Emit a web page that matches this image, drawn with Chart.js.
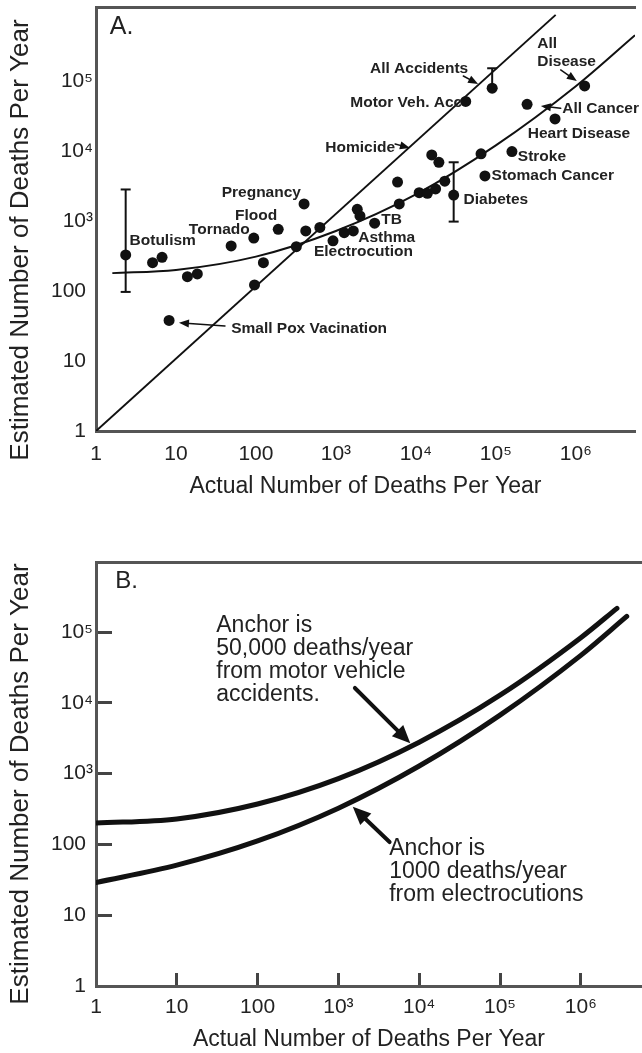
<!DOCTYPE html>
<html>
<head>
<meta charset="utf-8">
<title>Estimated vs actual deaths per year</title>
<script src="https://cdn.jsdelivr.net/npm/chart.js@4.4.1/dist/chart.umd.min.js"></script>
<style>
  html, body { margin: 0; padding: 0; background: #fff; }
  #wrap { position: relative; width: 642px; height: 1053px; overflow: hidden; }
  #chartA { position: absolute; left: 0; top: 0; }
  #chartB { position: absolute; left: 0; top: 530px; }
</style>
</head>
<body>
<div id="wrap">
  <canvas id="chartA" width="642" height="520"></canvas>
  <canvas id="chartB" width="642" height="523"></canvas>
</div>
<script>
// Two log-log panels: A. causes of death (estimated vs actual),
// B. the two anchor curves.

// ---- data ----

// Panel A: one dot per cause of death
const actualA    = [2.35, 5.1, 6.7, 13.9, 18.5, 8.2, 49, 94, 190, 400,
                    124, 96, 320, 420, 630, 920, 1270, 1650, 1850, 2000,
                    3050, 5900, 6200, 42000, 90000, 15800, 19400, 65300, 159000, 246000,
                    550000, 1290000, 73100, 23000, 11000, 13940, 17650, 29700];
const estimatedA = [327, 254, 303, 160, 175, 38, 440, 570, 760, 1750,
                    254, 122, 430, 720, 810, 520, 680, 720, 1470, 1180,
                    930, 3600, 1750, 51000, 79000, 8800, 6900, 9100, 9800, 46500,
                    28700, 85000, 4400, 3700, 2540, 2490, 2870, 2350];

// error bars (Botulism, All Accidents, Diabetes)
const barX    = [2.35, 90000, 29700];
const barLow  = [97, 79000, 980];
const barHigh = [2820, 152000, 6900];

// identity line and fitted curve
const diagX = [1, 560000];
const diagY = [1, 880000];
const fitX  = [1.6, 10, 100, 1000, 1e4, 1e5, 1e6, 5.5e6];
const fitY  = [180, 200, 310, 720, 2400, 12000, 84000, 450000];

// Panel B: anchor curves
const motorX = [1, 10, 100, 1000, 1e4, 1e5, 1e6, 2.8e6];
const motorY = [200, 229, 372, 850, 2780, 12800, 83000, 216000];
const electroX = [1, 10, 100, 1000, 1e4, 1e5, 1e6, 3.7e6];
const electroY = [29, 51, 112, 325, 1280, 6700, 46800, 166000];

// axis ticks
const xTickValues = [1, 10, 100, 1e3, 1e4, 1e5, 1e6];
const yTickValues = [1, 10, 100, 1e3, 1e4, 1e5];
const tickLabels  = ["1", "10", "100", "10³", "10⁴", "10⁵", "10⁶"];

// ---- styling ----
const FONT  = "'Liberation Sans', Arial, Helvetica, sans-serif";
const INK   = "#111";
const FRAME = "#555";

Chart.defaults.font.family = FONT;
Chart.defaults.color = "#222";

const tickText = Object.fromEntries(xTickValues.map((v, i) => [v, tickLabels[i]]));
const xTick = v => tickText[v] || "";
// pad plain labels so their digits line up with the superscripted ones
const yTick = v => {
  const t = tickText[v] || "";
  return v >= 1000 ? t : t + "\u2004";
};

const pts = (xs, ys) => xs.map((v, i) => ({ x: v, y: ys[i] }));

function notesPlugin(notes) {
  return {
    id: "notes",
    afterDatasetsDraw(chart) {
      const ctx = chart.ctx;
      const px = v => chart.scales.x.getPixelForValue(v);
      const py = v => chart.scales.y.getPixelForValue(v);
      ctx.save();
      ctx.fillStyle = INK;
      ctx.strokeStyle = INK;
      ctx.lineCap = "round";
      notes.arrows.forEach(a => {
        const x0 = px(a.from[0]), y0 = py(a.from[1]);
        const x1 = px(a.to[0]),   y1 = py(a.to[1]);
        const ang = Math.atan2(y1 - y0, x1 - x0);
        const c = Math.cos(ang), s = Math.sin(ang);
        const hl = notes.head, hw = notes.headWidth;
        ctx.lineWidth = notes.arrowWidth;
        ctx.beginPath();
        ctx.moveTo(x0, y0);
        ctx.lineTo(x1 - c * hl * 0.7, y1 - s * hl * 0.7);
        ctx.stroke();
        ctx.beginPath();
        ctx.moveTo(x1, y1);
        ctx.lineTo(x1 - c * hl - s * hw, y1 - s * hl + c * hw);
        ctx.lineTo(x1 - c * hl + s * hw, y1 - s * hl - c * hw);
        ctx.closePath();
        ctx.fill();
      });
      ctx.fillStyle = "#222";
      ctx.textBaseline = "middle";
      notes.texts.forEach(t => {
        ctx.font = t.font || notes.font;
        ctx.textAlign = t.align || "left";
        t.lines.forEach((line, i) => ctx.fillText(line, px(t.x), py(t.y) + i * notes.lineHeight));
      });
      // rotated y title, placed where the original has it
      const yt = notes.yTitle;
      ctx.translate(yt.x, yt.y);
      ctx.rotate(-Math.PI / 2);
      ctx.textAlign = "center";
      ctx.font = "26px " + FONT;
      ctx.fillText("Estimated Number of Deaths Per Year", 0, 0);
      ctx.restore();
    }
  };
}

function scales(opts) {
  return {
    x: {
      type: "logarithmic", min: 1, max: opts.xMax,
      afterBuildTicks: s => { s.ticks = xTickValues.map(v => ({ value: v })); },
      // fixed box size, and no extra room reserved for overhanging labels
      afterFit: s => { s.height = opts.xHeight; s.paddingLeft = 0; s.paddingRight = 0; },
      grid: opts.xGrid,
      border: { display: true, color: FRAME, width: 3 },
      ticks: { callback: xTick, font: { size: 21 }, padding: opts.xPad,
               autoSkip: false, maxRotation: 0 },
      title: { display: true, text: "Actual Number of Deaths Per Year",
               font: { size: 23 }, padding: { top: 0, bottom: opts.titlePad } }
    },
    xTop: {
      type: "linear", position: "top",
      afterFit: s => { s.height = 0; s.paddingLeft = 0; s.paddingRight = 0; },
      grid: { display: false, drawTicks: false },
      ticks: { display: false },
      border: { display: true, color: FRAME, width: 3 }
    },
    y: {
      type: "logarithmic", min: 1, max: opts.yMax,
      afterBuildTicks: s => { s.ticks = yTickValues.map(v => ({ value: v })); },
      afterFit: s => { s.width = 96; s.paddingTop = 0; s.paddingBottom = 0; },
      grid: opts.yGrid,
      border: { display: true, color: FRAME, width: 3 },
      ticks: { callback: yTick, font: { size: 21 }, padding: opts.yPad, autoSkip: false }
    }
  };
}

const common = {
  responsive: false,
  animation: false,
  events: [],
  plugins: { legend: { display: false }, tooltip: { enabled: false } }
};

// ---- panel A ----
const boldFont = "bold 15.5px " + FONT;
const notesA = {
  font: boldFont, lineHeight: 18, arrowWidth: 1.5, head: 10, headWidth: 4,
  yTitle: { x: 21, y: 240 },
  texts: [
    { lines: ["A."], x: 1.49, y: 581000, font: "25px " + FONT },
    { lines: ["Botulism"], x: 2.63, y: 518 },
    { lines: ["Tornado"], x: 14.5, y: 744 },
    { lines: ["Flood"], x: 54.6, y: 1180 },
    { lines: ["Pregnancy"], x: 37.3, y: 2540 },
    { lines: ["TB"], x: 3700, y: 1030 },
    { lines: ["Asthma"], x: 1900, y: 585 },
    { lines: ["Electrocution"], x: 531, y: 364 },
    { lines: ["Small Pox Vacination"], x: 49, y: 29.3 },
    { lines: ["Homicide"], x: 5500, y: 11140, align: "right" },
    { lines: ["Motor Veh. Acc"], x: 38000, y: 49600, align: "right" },
    { lines: ["All Accidents"], x: 45100, y: 149300, align: "right" },
    { lines: ["All", "Disease"], x: 330000, y: 346000 },
    { lines: ["All Cancer"], x: 677000, y: 40700 },
    { lines: ["Heart Disease"], x: 250400, y: 17900 },
    { lines: ["Stroke"], x: 188400, y: 8290 },
    { lines: ["Stomach Cancer"], x: 88500, y: 4395 },
    { lines: ["Diabetes"], x: 39500, y: 1995 }
  ],
  arrows: [
    { from: [41, 31.6], to: [10.9, 35.2] },
    { from: [5500, 12600], to: [8430, 11040] },
    { from: [39200, 117800], to: [60000, 90600] },
    { from: [647000, 143600], to: [1030000, 100000] },
    { from: [647000, 40700], to: [366000, 43900] }
  ]
};

const errorBars = barX.map((v, i) => ({
  type: "line",
  data: [{ x: v, y: barLow[i] }, { x: v, y: barHigh[i] }],
  borderColor: INK, borderWidth: 2,
  pointStyle: "line", pointRadius: 5, pointBorderColor: INK, pointBorderWidth: 2
}));

new Chart(document.getElementById("chartA"), {
  type: "scatter",
  data: {
    datasets: [
      { data: pts(actualA, estimatedA), pointRadius: 5.5,
        pointBackgroundColor: INK, pointBorderWidth: 0 },
      ...errorBars,
      { type: "line", data: pts(diagX, diagY), borderColor: INK, borderWidth: 2, pointRadius: 0 },
      { type: "line", data: pts(fitX, fitY), borderColor: INK, borderWidth: 2, pointRadius: 0,
        cubicInterpolationMode: "monotone" }
    ]
  },
  options: {
    ...common,
    layout: { padding: { top: 7, left: 0, right: 0, bottom: 0 } },
    scales: scales({
      xMax: 5.5e6, yMax: 1.14e6, xHeight: 89, titlePad: 20, xPad: 11, yPad: 3,
      xGrid: { display: false, drawTicks: false },
      yGrid: { display: false, drawTicks: false }
    })
  },
  plugins: [notesPlugin(notesA)]
});

// ---- panel B ----
const notesB = {
  font: "23px " + FONT, lineHeight: 23, arrowWidth: 4, head: 18, headWidth: 8,
  yTitle: { x: 21, y: 254 },
  texts: [
    { lines: ["B."], x: 1.73, y: 525000, font: "24px " + FONT },
    { lines: ["Anchor is", "50,000 deaths/year", "from motor vehicle", "accidents."],
      x: 30.8, y: 121600 },
    { lines: ["Anchor is", "1000 deaths/year", "from electrocutions"], x: 4250, y: 86 }
  ],
  arrows: [
    { from: [1600, 16200], to: [7760, 2680] },
    { from: [4300, 108], to: [1507, 340] }
  ]
};

new Chart(document.getElementById("chartB"), {
  type: "line",
  data: {
    datasets: [
      { data: pts(motorX, motorY), borderColor: INK, borderWidth: 5, pointRadius: 0,
        borderCapStyle: "round", cubicInterpolationMode: "monotone" },
      { data: pts(electroX, electroY), borderColor: INK, borderWidth: 5, pointRadius: 0,
        borderCapStyle: "round", cubicInterpolationMode: "monotone" }
    ]
  },
  options: {
    ...common,
    layout: { padding: { top: 32, left: 0, right: 0, bottom: 0 } },
    scales: scales({
      xMax: 5.72e6, yMax: 9.75e5, xHeight: 67, titlePad: 0, xPad: 22, yPad: 19,
      xGrid: { display: true, drawOnChartArea: false, drawTicks: true,
               tickLength: -13, tickWidth: 3, tickColor: "#444" },
      yGrid: { display: true, drawOnChartArea: false, drawTicks: true,
               tickLength: -16, tickWidth: 3, tickColor: "#444" }
    })
  },
  plugins: [notesPlugin(notesB)]
});
</script>
</body>
</html>
